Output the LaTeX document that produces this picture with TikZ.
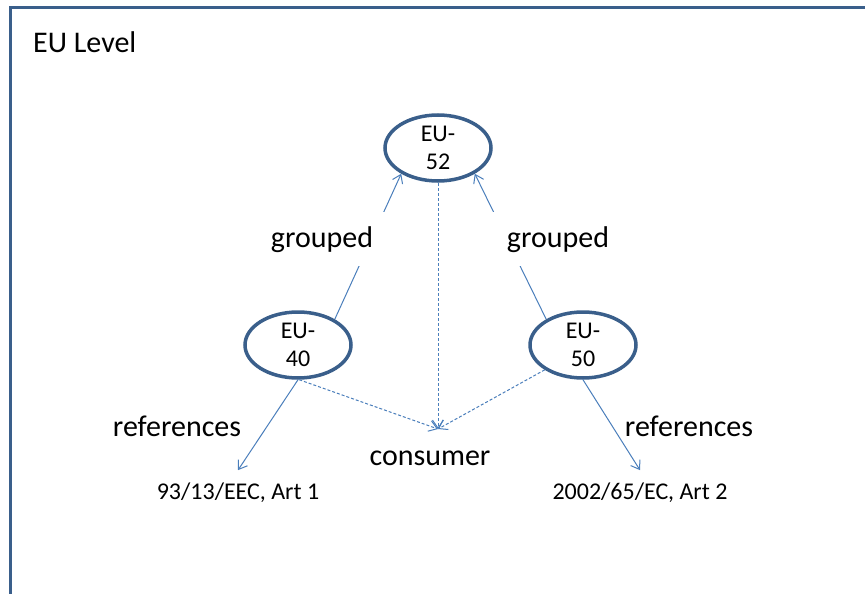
\documentclass[tikz,border=0pt]{standalone}
\usepackage{fontspec}
\setmainfont{Carlito}
\usetikzlibrary{shapes.geometric,arrows.meta}
\definecolor{marco}{HTML}{3A5F8B}
\definecolor{flecha}{HTML}{4A7EBB}
\tikzset{
  nivel/.style={draw=marco, line width=3.5pt, ellipse, minimum width=106pt, minimum height=66pt, inner sep=0pt, align=center, font=\fontsize{24}{28}\selectfont},
  etiqueta/.style={anchor=base, fill=white, inner xsep=14pt, inner ysep=14pt, font=\fontsize{30}{36}\selectfont},
  texto/.style={anchor=base, inner sep=0pt, font=\fontsize{30}{36}\selectfont},
  norma/.style={anchor=base, inner xsep=2pt, inner ysep=12pt, font=\fontsize{24}{28}\selectfont},
  arr/.style={draw=flecha, line width=1pt, -{Straight Barb[length=8pt,width=11pt]}},
  arrpunt/.style={arr, dash pattern=on 3pt off 2pt}
}
\begin{document}
\begin{tikzpicture}[x=1pt, y=-1pt]
    \useasboundingbox (0,0) rectangle (865,594); % tamaño de la imagen
    \clip (0,0) rectangle (865,594);
    \draw[marco, line width=3pt] (10,8) rectangle (900,640); % marco cortado a la derecha y abajo
    \node[texto, anchor=base west] (nivelUE) at (33,53) {EU Level}; % título

    \node[nivel] (eu52) at (438,148) {EU-\\52}; % arriba
    \node[nivel] (eu40) at (298,345) {EU-\\40}; % izquierda
    \node[nivel] (eu50) at (583,345) {EU-\\50}; % derecha

    \node[norma] (ref1) at (238,499) {93/13/EEC, Art 1};
    \node[norma] (ref2) at (640,499) {2002/65/EC, Art 2};
    \node[texto] (cons) at (430,465) {consumer};
    \coordinate (hub) at (438,429); % punta común de las flechas punteadas

    \draw[arr] (eu40.35) -- (eu52.215); % agrupado
    \draw[arr] (eu50.145) -- (eu52.325);
    \draw[arr] (eu40.south) -- (ref1.north); % referencias
    \draw[arr] (eu50.south) -- (ref2.north);
    \draw[arrpunt] (eu52.south) -- (hub); % hacia consumer
    \draw[arrpunt] (eu40.-88) -- (hub);
    \draw[arrpunt] (eu50.213) -- (hub);

    \node[etiqueta] (grp1) at (322,247) {grouped}; % tapa la línea
    \node[etiqueta] (grp2) at (558,247) {grouped};
    \node[texto] (refs1) at (177,436) {references};
    \node[texto] (refs2) at (689,436) {references};
\end{tikzpicture}
\end{document}
